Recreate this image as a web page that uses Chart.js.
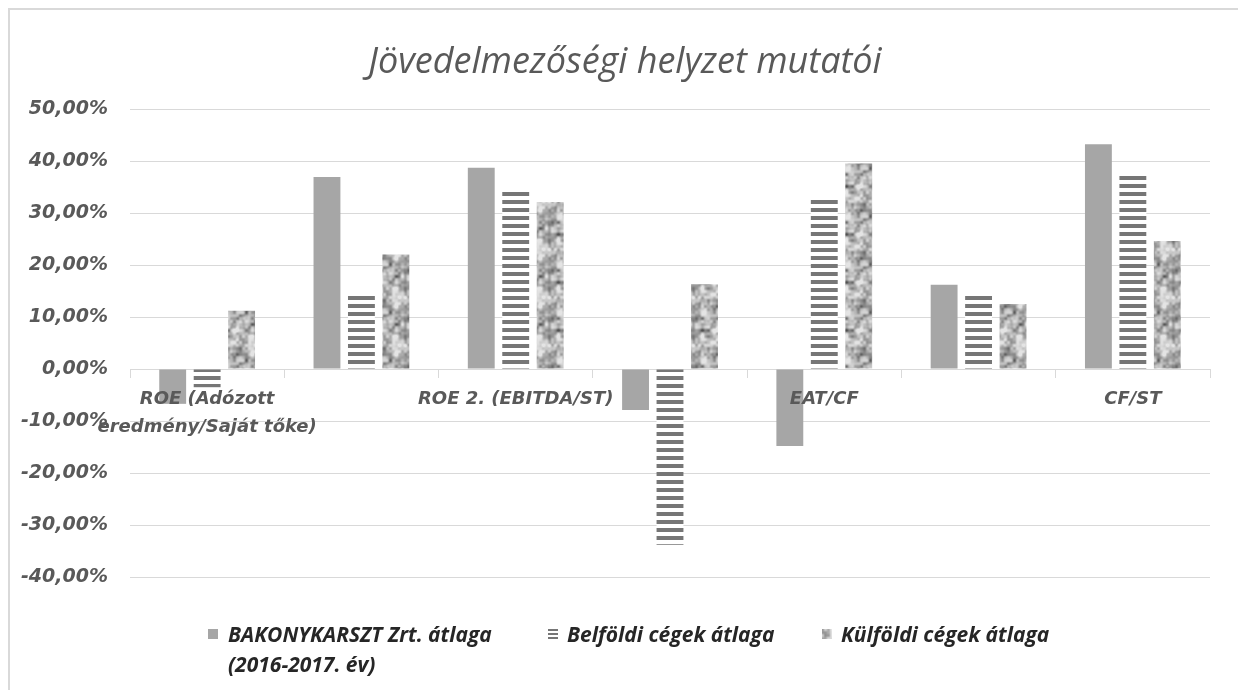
<!DOCTYPE html>
<html>
<head>
<meta charset="utf-8">
<script src="https://cdn.jsdelivr.net/npm/chart.js@4/dist/chart.umd.min.js"></script>
<style>
  body { margin: 0; background: #fff; }
  #wrap { position: relative; width: 1238px; height: 690px; overflow: hidden; }
  #frame { position: absolute; left: 8px; top: 8px; width: 1250px; height: 700px; border: 2px solid #d9d9d9; box-sizing: border-box; }
  #myChart { position: absolute; left: 0; top: 0; }
  #title { position: absolute; left: 0; top: 38px; width: 1250px; text-align: center; font: italic 36px "Open Sans", sans-serif; line-height: 43px; color: #595959; }
  .lg { position: absolute; font: italic bold 21px "Open Sans", sans-serif; color: #262626; line-height: 30px; white-space: nowrap; }
  .sw { position: absolute; width: 10px; height: 10px; }
</style>
</head>
<body>
<div id="wrap">
  <div id="frame"></div>
  <canvas id="myChart" width="1238" height="690"></canvas>
  <div id="title">Jövedelmezőségi helyzet mutatói</div>
  <div id="legend"></div>
</div>
<script>
// categories (labels that Excel skipped are left empty)
var categories = [
  ["ROE (Adózott", "eredmény/Saját tőke)"],
  "",
  "ROE 2. (EBITDA/ST)",
  "",
  "EAT/CF",
  "",
  "CF/ST"
];
var seriesNames = [
  ["BAKONYKARSZT Zrt. átlaga", "(2016-2017. év)"],
  "Belföldi cégek átlaga",
  "Külföldi cégek átlaga"
];
var bakonyValues = [-6.7, 36.9, 38.7, -7.9, -14.8, 16.2, 43.2];
var belfoldiValues = [-3.5, 14.3, 34.2, -33.8, 32.6, 14.3, 37.6];
var kulfoldiValues = [11.2, 22.0, 32.1, 16.3, 39.5, 12.5, 24.6];
var yTicks = [50, 40, 30, 20, 10, 0, -10, -20, -30, -40];

// horizontal stripes
function makeStripes() {
  var c = document.createElement("canvas");
  c.width = 8; c.height = 8;
  var g = c.getContext("2d");
  g.fillStyle = "#fff";
  g.fillRect(0, 0, 8, 8);
  g.fillStyle = "#767676";
  g.fillRect(0, 0, 8, 4);
  return c;
}

// grey mottled texture: tileable value noise from a fixed hash
function makeTexture() {
  var n = 48;
  var c = document.createElement("canvas");
  c.width = n; c.height = n;
  var g = c.getContext("2d");
  var img = g.createImageData(n, n);
  function hash(i, j, s) {
    var h = Math.sin(i * 127.1 + j * 311.7 + s * 74.7) * 43758.5453;
    return h - Math.floor(h);
  }
  function noise(x, y, cell, s) {
    var m = n / cell;
    var gx = x / cell, gy = y / cell;
    var i0 = Math.floor(gx), j0 = Math.floor(gy);
    var fx = gx - i0, fy = gy - j0;
    fx = fx * fx * (3 - 2 * fx); fy = fy * fy * (3 - 2 * fy);
    var i1 = (i0 + 1) % m, j1 = (j0 + 1) % m;
    var a = hash(i0, j0, s), b = hash(i1, j0, s), c2 = hash(i0, j1, s), d = hash(i1, j1, s);
    return (a * (1 - fx) + b * fx) * (1 - fy) + (c2 * (1 - fx) + d * fx) * fy;
  }
  for (var y = 0; y < n; y++) {
    for (var x = 0; x < n; x++) {
      var v = 0.6 * noise(x, y, 6, 1) + 0.4 * noise(x, y, 3, 2);
      var gray = Math.max(80, Math.min(228, Math.round(250 - 190 * Math.pow(v, 1.4))));
      var i = (y * n + x) * 4;
      img.data[i] = gray; img.data[i + 1] = gray; img.data[i + 2] = gray; img.data[i + 3] = 255;
    }
  }
  g.putImageData(img, 0, 0);
  return c;
}

var stripeCanvas = makeStripes();
var textureCanvas = makeTexture();
var ctx = document.getElementById("myChart").getContext("2d");
var stripePattern = ctx.createPattern(stripeCanvas, "repeat");
var texturePattern = ctx.createPattern(textureCanvas, "repeat");

var yFont = { family: "'DejaVu Sans', sans-serif", size: 19, style: "italic", weight: "bold" };
var xFont = { family: "'DejaVu Sans', sans-serif", size: 18, style: "italic", weight: "bold", lineHeight: 1.55 };

new Chart(ctx, {
  type: "bar",
  data: {
    labels: categories,
    datasets: [
      { label: "BAKONYKARSZT Zrt. átlaga (2016-2017. év)", data: bakonyValues, backgroundColor: "#a6a6a6" },
      { label: "Belföldi cégek átlaga", data: belfoldiValues, backgroundColor: stripePattern },
      { label: "Külföldi cégek átlaga", data: kulfoldiValues, backgroundColor: texturePattern }
    ]
  },
  options: {
    responsive: false,
    animation: false,
    categoryPercentage: 0.67,
    barPercentage: 0.78,
    layout: { padding: { left: 0, right: 28, top: 109, bottom: 113 } },
    plugins: {
      legend: { display: false },
      tooltip: { enabled: false }
    },
    scales: {
      x: {
        position: { y: 0 },
        border: { display: true, color: "#d9d9d9" },
        grid: { drawOnChartArea: false, drawTicks: true, tickLength: 8, color: "#d9d9d9", offset: true },
        ticks: {
          z: 1,
          autoSkip: false,
          maxRotation: 0,
          padding: 8,
          color: "#595959",
          font: xFont
        }
      },
      y: {
        min: -40,
        max: 50,
        afterFit: function (scale) { scale.width = 130; },
        afterBuildTicks: function (scale) {
          scale.ticks = yTicks.map(function (v) { return { value: v }; });
        },
        border: { display: false },
        grid: { color: "#d9d9d9", drawTicks: false },
        ticks: {
          padding: 22,
          color: "#595959",
          font: yFont,
          callback: function (v) { return v.toFixed(2).replace(".", ",") + "%"; }
        }
      }
    }
  }
});

// legend, laid out like the Excel one
var legendPos = [
  { sw: 208, text: 228 },
  { sw: 548, text: 567 },
  { sw: 822, text: 841 }
];
var swatches = [
  "background:#a6a6a6",
  "background-image:url(" + stripeCanvas.toDataURL() + ");background-size:8px 4px",
  "background-image:url(" + textureCanvas.toDataURL() + ")"
];
var legend = document.getElementById("legend");
seriesNames.forEach(function (name, i) {
  var sw = document.createElement("div");
  sw.className = "sw";
  sw.style.cssText = swatches[i] + ";left:" + legendPos[i].sw + "px;top:629px";
  legend.appendChild(sw);
  var t = document.createElement("div");
  t.className = "lg";
  t.style.left = legendPos[i].text + "px";
  t.style.top = "619px";
  t.innerHTML = [].concat(name).join("<br>");
  legend.appendChild(t);
});
</script>
</body>
</html>
